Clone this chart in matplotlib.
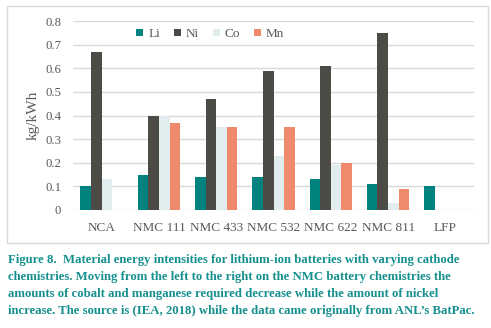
import matplotlib
matplotlib.use("Agg")
import matplotlib.pyplot as plt
import numpy as np
from matplotlib.patches import Rectangle

categories = ["NCA", "NMC 111", "NMC 433", "NMC 532", "NMC 622", "NMC 811", "LFP"]
li = [0.10, 0.15, 0.14, 0.14, 0.13, 0.11, 0.10]
ni = [0.67, 0.40, 0.47, 0.59, 0.61, 0.75, 0.0]
co = [0.13, 0.40, 0.35, 0.23, 0.19, 0.03, 0.0]
mn = [0.0, 0.37, 0.35, 0.35, 0.20, 0.09, 0.0]
series = [("Li", li, "#00827F"), ("Ni", ni, "#4D4B46"),
          ("Co", co, "#E1ECEF"), ("Mn", mn, "#F08A6C")]
yticks = [0, 0.1, 0.2, 0.3, 0.4, 0.5, 0.6, 0.7, 0.8]
ytick_labels = ["0", "0.1", "0.2", "0.3", "0.4", "0.5", "0.6", "0.7", "0.8"]

caption = ("Figure 8.  Material energy intensities for lithium-ion batteries with varying cathode\n"
           "chemistries. Moving from the left to the right on the NMC battery chemistries the\n"
           "amounts of cobalt and manganese required decrease while the amount of nickel\n"
           "increase. The source is (IEA, 2018) while the data came originally from ANL\u2019s BatPac.")

plt.rcParams["font.family"] = ["Liberation Serif", "DejaVu Serif"]

W, H = 491, 328
fig = plt.figure(figsize=(W / 100, H / 100), dpi=100)
fig.patch.set_facecolor("white")

# chart frame
fig.patches.append(Rectangle((7 / W, 1 - 243 / H), 481 / W, 237 / H,
                             transform=fig.transFigure, fill=False,
                             edgecolor="#D9D9D9", linewidth=1.0))

ax = fig.add_axes([73 / W, 1 - 210 / H, (474 - 73) / W, (210 - 21) / H])
x = np.arange(len(categories))
bw = 0.185
for i, (name, vals, col) in enumerate(series):
    ax.bar(x + (i - 1.5) * bw, vals, width=bw, color=col, label=name, zorder=3)

ax.set_xlim(-0.5, len(categories) - 0.5)
ax.set_ylim(0, 0.8)
ax.set_yticks(yticks)
ax.set_yticklabels(ytick_labels)
ax.set_xticks(x)
ax.set_xticklabels(categories)
ax.tick_params(axis="both", length=0, colors="#595959")
ax.tick_params(axis="x", labelsize=9.5, pad=8.5)
ax.tick_params(axis="y", labelsize=9.2, pad=8.5)
ax.grid(axis="y", color="#D9D9D9", linewidth=1.0, zorder=0)
for s in ax.spines.values():
    s.set_visible(False)
ax.set_ylabel("kg/kWh", fontsize=11, color="#595959")
ax.yaxis.set_label_coords(-0.083, 0.5)

ax.legend(loc="upper center", bbox_to_anchor=(0.342, 1.025), ncol=4, frameon=False,
          fontsize=9.5, handlelength=0.55, handleheight=0.55, handletextpad=0.35,
          columnspacing=1.05, labelcolor="#595959")

fig.text(8 / W, 1 - 254 / H, caption, fontsize=9.15, fontweight="bold",
         color="#16908F", va="top", ha="left", linespacing=1.56)

fig.savefig("out.png", dpi=100)
